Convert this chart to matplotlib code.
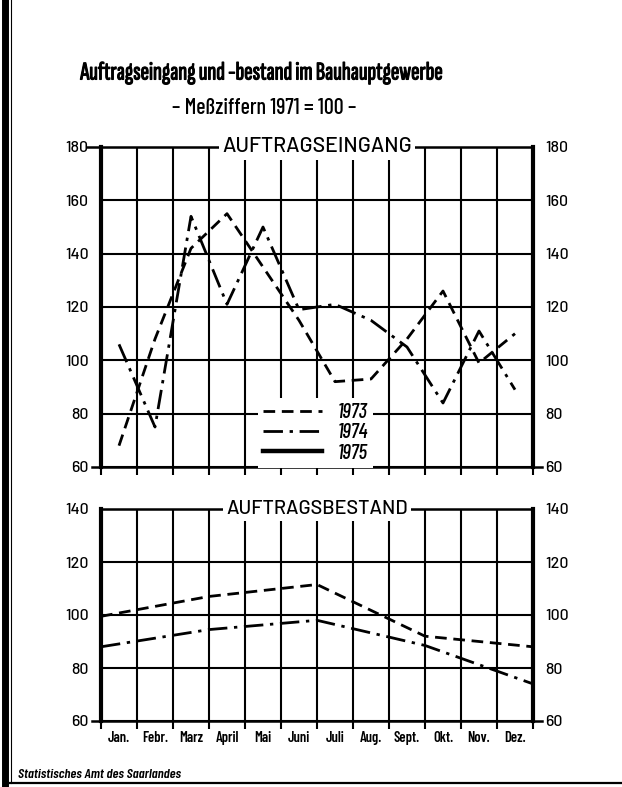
import matplotlib
matplotlib.use("Agg")
import matplotlib.pyplot as plt
from matplotlib.lines import Line2D
import matplotlib.patheffects as pe
import numpy as np

# ---------------- data ----------------
months = ["Jan.", "Febr.", "Marz", "April", "Mai", "Juni",
          "Juli", "Aug.", "Sept.", "Okt.", "Nov.", "Dez."]

# Auftragseingang (monthly index, 1971 = 100)
eingang_1973 = [68, 108, 142, 155, 135, 115, 92, 93, 108, 126, 99, 110]
eingang_1974 = [106, 75, 154, 121, 150, 119, 121, 115, 105, 84, 111, 89]
eingang_1975 = [None, None, None, None, None, None,
                None, None, None, None, None, None]

# Auftragsbestand (quarter-end values; position in months from start of year)
bestand_month = [0, 3, 6, 9, 12]
bestand_1973 = [99.5, 107, 111.5, 92, 88]
bestand_1974 = [88, 94.5, 98, 88.5, 74]

years = ["1973", "1974", "1975"]

# ---------------- styles ----------------
styles = {
    "1973": dict(color="black", lw=2.0, linestyle=(0, (4.2, 2.4)), dash_capstyle="butt"),
    "1974": dict(color="black", lw=2.0, linestyle=(0, (7, 2.4, 1.2, 2.4)), dash_capstyle="butt"),
    "1975": dict(color="black", lw=3.2, linestyle="-"),
}

W, H = 622, 787
fig = plt.figure(figsize=(W / 100, H / 100), dpi=100)
fig.patch.set_facecolor("white")


def rect(l, t, r, b):
    return [l / W, 1 - b / H, (r - l) / W, (b - t) / H]


ax1 = fig.add_axes(rect(101, 147, 533, 467))
ax2 = fig.add_axes(rect(101, 509, 533, 721))

NUM_FONT = "Barlow"
COND_FONT = "Barlow Condensed"
TITLE_FONT = "Sofia Sans Extra Condensed"


def style_axes(ax, ymin, ymax, ext_top_left=0.0):
    ax.set_xlim(0, 12)
    ax.set_ylim(ymin, ymax)
    ax.set_xticks(np.arange(13))
    ax.set_yticks(np.arange(ymin, ymax + 1, 20))
    ax.grid(True, color="black", lw=1.5)
    ax.set_axisbelow(True)
    for s in ("top", "bottom"):
        ax.spines[s].set_visible(False)
    for s in ("left", "right"):
        ax.spines[s].set_linewidth(3.0)
        ax.spines[s].set_color("black")
    ax.tick_params(axis="x", direction="out", length=6, width=1.5,
                   labelbottom=False, top=False)
    ax.tick_params(axis="y", length=0, labelleft=True, labelright=True, pad=9)
    for t in ax.yaxis.get_major_ticks():
        for lab in (t.label1, t.label2):
            lab.set_fontfamily(NUM_FONT)
            lab.set_fontsize(11.5)
            lab.set_fontweight("medium")
    # frame lines top / bottom (slightly extended like the original drawing)
    ax.plot([-ext_top_left, 1], [1, 1], transform=ax.transAxes, clip_on=False,
            color="black", lw=1.8, zorder=3)
    ax.plot([-0.021, 1.021], [0, 0], transform=ax.transAxes, clip_on=False,
            color="black", lw=1.8, zorder=3)


style_axes(ax1, 60, 180, ext_top_left=0.033)
style_axes(ax2, 60, 140)

# ---------------- data lines ----------------
x_month = np.arange(12) + 0.5
series_top = {"1973": eingang_1973, "1974": eingang_1974, "1975": eingang_1975}
handles = []
for y in years:
    vals = np.array([np.nan if v is None else v for v in series_top[y]], dtype=float)
    (ln,) = ax1.plot(x_month, vals, label=y, zorder=4, **styles[y])
    handles.append(ln)

ax2.plot(bestand_month, bestand_1973, zorder=4, **styles["1973"])
ax2.plot(bestand_month, bestand_1974, zorder=4, **styles["1974"])

# ---------------- legend ----------------
leg = ax1.legend(handles=handles, labels=years, loc="center left",
                 bbox_to_anchor=((258 - 101) / 432, (467 - 433) / 320),
                 frameon=True, facecolor="white", edgecolor="none", framealpha=1,
                 fancybox=False, borderpad=0.25, borderaxespad=0,
                 handlelength=2.8, handletextpad=0.75, labelspacing=0.05,
                 prop=dict(family=COND_FONT, style="italic", size=15, weight="medium"))
leg.set_zorder(6)

# ---------------- month labels ----------------
ax2.set_xticks(x_month, minor=True)
ax2.set_xticklabels(months, minor=True)
ax2.tick_params(axis="x", which="minor", length=0, pad=7, labelbottom=True)
for lab in ax2.get_xticklabels(minor=True):
    lab.set_fontfamily(COND_FONT)
    lab.set_fontsize(10.5)
    lab.set_fontweight("semibold")

# ---------------- texts ----------------
t1 = ax1.text(0.5, 1.0, "AUFTRAGSEINGANG", transform=ax1.transAxes, ha="center", va="center",
              family=NUM_FONT, fontsize=15, fontweight="medium", zorder=7,
              bbox=dict(facecolor="white", edgecolor="none", pad=2.5))
t2 = ax2.text(0.5, 1.0, "AUFTRAGSBESTAND", transform=ax2.transAxes, ha="center", va="center",
              family=NUM_FONT, fontsize=15, fontweight="medium", zorder=7,
              bbox=dict(facecolor="white", edgecolor="none", pad=2.5))

title = fig.text(261.5 / W, 1 - 73 / H, "Auftragseingang und -bestand im Bauhauptgewerbe",
                 ha="center", va="center", family=TITLE_FONT, fontweight="bold", fontsize=20,
                 path_effects=[pe.withStroke(linewidth=0.8, foreground="black")])
subtitle = fig.text(264 / W, 1 - 108 / H, "– Meßziffern 1971 = 100 –",
                    ha="center", va="center", family=COND_FONT, fontweight="medium", fontsize=13)
footer = fig.text(18 / W, 1 - 775 / H, "Statistisches Amt des Saarlandes",
                  ha="left", va="center", family=COND_FONT, style="italic",
                  fontweight="semibold", fontsize=8)

# frame of the page
fig.add_artist(Line2D([5 / W, 5 / W], [0, 1], lw=5, color="black"))
fig.add_artist(Line2D([11 / W, 11 / W], [1 - 783 / H, 1], lw=0.8, color="black"))
fig.add_artist(Line2D([10 / W, 1], [1 - 783 / H, 1 - 783 / H], lw=1.6, color="black"))

# fit text widths to the original lettering
fig.canvas.draw()
r = fig.canvas.get_renderer()
for t, target in ((title, 362), (subtitle, 184), (t1, 190), (t2, 182), (footer, 162)):
    w = t.get_window_extent(r).width
    t.set_fontsize(t.get_fontsize() * target / w)

fig.savefig("out.png", dpi=100, facecolor="white")
